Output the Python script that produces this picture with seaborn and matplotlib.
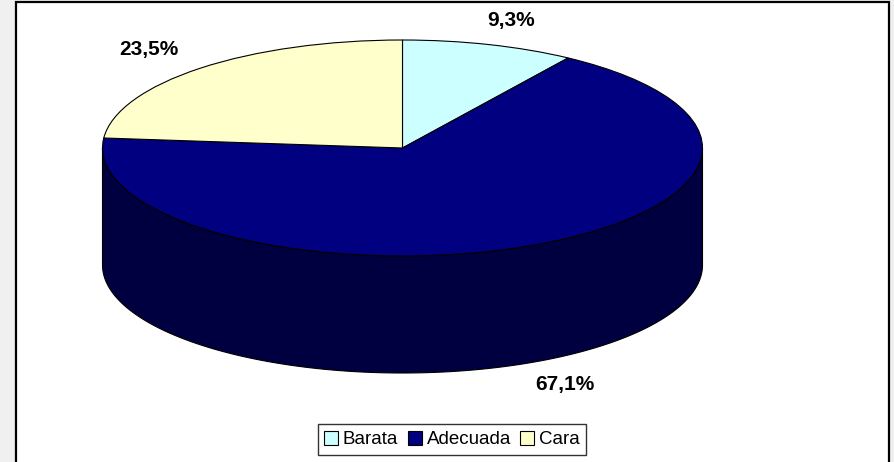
import numpy as np
import matplotlib
matplotlib.use('Agg')
import matplotlib.pyplot as plt
import seaborn as sns
from matplotlib.patches import Rectangle, Polygon

categories = ['Barata', 'Adecuada', 'Cara']
values = [9.3, 67.1, 23.5]
labels = ['9,3%', '67,1%', '23,5%']
palette = ['#CCFFFF', '#000080', '#FFFFCC']

sns.set_theme(style='white')
plt.rcParams['font.family'] = ['Liberation Sans Narrow', 'Liberation Sans', 'DejaVu Sans']
plt.rcParams['text.color'] = 'black'

W, H = 895, 462
fig = plt.figure(figsize=(W / 100, H / 100), dpi=100, facecolor='#f0f0f0')
fig.patches.append(Rectangle((16 / W, -0.05), (889 - 16) / W, 1.05 - 2.5 / H,
                             transform=fig.transFigure, facecolor='white',
                             edgecolor='black', linewidth=1.6, zorder=-5))

# pie geometry (pixels)
cx, cy, a, b, depth = 402.5, 148.0, 300.0, 108.0, 117.0
ax = fig.add_axes([0, 0, 1, 1], zorder=2)
ax.patch.set_alpha(0)
wedges, _ = ax.pie(values, colors=palette, startangle=90, counterclock=False,
                   radius=1, center=(0, 0),
                   wedgeprops=dict(edgecolor='black', linewidth=0.8))
ax.set_aspect('auto')
ax.set_xlim(-cx / a, (W - cx) / a)
ax.set_ylim((cy - H) / b, cy / b)
ax.set_axis_off()

d = depth / b
for w, col in zip(wedges, palette):
    t1, t2 = w.theta1, w.theta2
    rgb = np.array(matplotlib.colors.to_rgb(col)) * 0.5
    for k in (-1, 0, 1):
        lo = max(t1, 180 + 360 * k)
        hi = min(t2, 360 + 360 * k)
        if hi > lo:
            t = np.radians(np.linspace(lo, hi, 300))
            xs, ys = np.cos(t), np.sin(t)
            pts = np.concatenate([np.column_stack([xs, ys]),
                                  np.column_stack([xs[::-1], ys[::-1] - d])])
            ax.add_patch(Polygon(pts, closed=True, facecolor=rgb,
                                 edgecolor='black', linewidth=0.8, zorder=0.5))

for w, lab in zip(wedges, labels):
    mid = np.radians((w.theta1 + w.theta2) / 2)
    r = 1.23
    x, y = r * np.cos(mid) * 1.02, r * np.sin(mid)
    if np.sin(mid) < 0:
        y -= d
    ax.text(x, y, lab, ha='center', va='center', fontsize=15,
            fontweight='bold', color='black')

leg = ax.legend(wedges, categories, ncol=3, loc='lower center',
                bbox_to_anchor=(452 / W, 7 / H), bbox_transform=fig.transFigure,
                frameon=True, fancybox=False, edgecolor='black', fontsize=13.5,
                handlelength=0.75, handleheight=0.75, handletextpad=0.25,
                columnspacing=0.5, borderpad=0.35, borderaxespad=0,
                labelcolor='black')
leg.get_frame().set_linewidth(1.0)
leg.get_frame().set_facecolor('white')

fig.savefig('out.png', dpi=100, facecolor=fig.get_facecolor())
